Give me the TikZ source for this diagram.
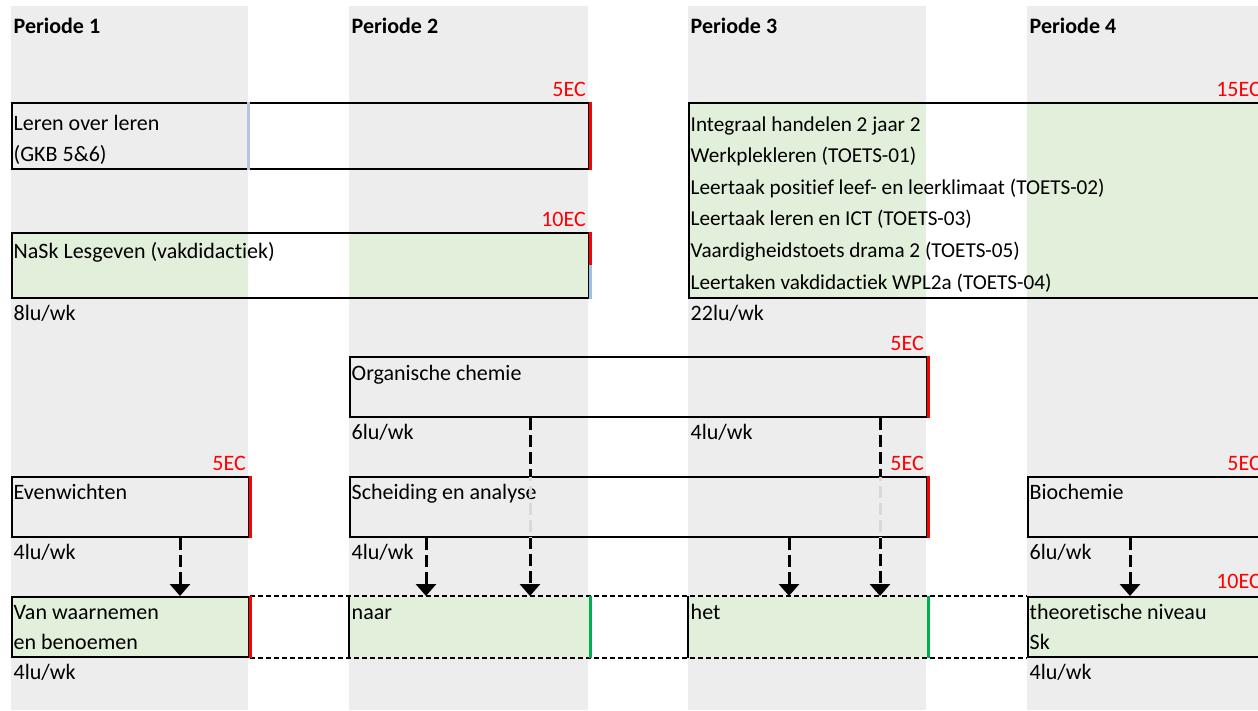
\documentclass[tikz,border=0pt]{standalone}
\usepackage{fontspec}
\setmainfont{Carlito}[Ligatures=NoCommon]
\usetikzlibrary{arrows.meta}

\definecolor{kolomgrijs}{HTML}{EDEDED}
\definecolor{celgroen}{HTML}{E2EFDA}
\definecolor{ecrood}{HTML}{FF0000}
\definecolor{randblauw}{HTML}{B4C6E7}
\definecolor{randblauwb}{HTML}{9BC2E6}
\definecolor{randgroen}{HTML}{00B050}
\definecolor{pijlgrijs}{HTML}{D9D9D9}

\newcommand{\celfont}{\fontsize{22}{31}\selectfont}
\newcommand{\toetsfont}{\fontsize{21.2}{31}\selectfont}

\tikzset{
  vak/.style={draw=black, line width=2pt, rectangle, inner sep=0pt, anchor=north west},
  tekst/.style={anchor=base west, inner sep=0pt, font=\celfont},
  kop/.style={tekst, font=\celfont\bfseries},
  ec/.style={anchor=base east, inner sep=0pt, text=ecrood, font=\celfont},
  roodrand/.style={draw=ecrood, line width=3pt},
  groenrand/.style={draw=randgroen, line width=3pt},
  pijl/.style={line width=3pt, dash pattern=on 12pt off 5pt, -{Triangle[width=20pt,length=12pt]}},
  streep/.style={line width=2pt, dash pattern=on 5pt off 3pt},
}

\begin{document}
\begin{tikzpicture}[x=1pt,y=-1pt]
        \useasboundingbox (0,0) rectangle (1258,710);
        % kolommen per periode
        \foreach \a/\b in {11/248,349/588,688/926,1027/1275}
                \fill[kolomgrijs] (\a,6) rectangle (\b,710);
        \foreach \a/\n in {11/1,349/2,688/3,1027/4}
                \node[kop] (kop\n) at (\a+2.5,33) {Periode \n};
        % groene cellen
        \fill[celgroen] (11,232) rectangle (248,297);
        \fill[celgroen] (349,232) rectangle (588,297);
        \fill[celgroen] (688,102) rectangle (926,297);
        \fill[celgroen] (1027,102) rectangle (1275,297);

        % vakken
        \node[vak, minimum width=577pt, minimum height=66pt] (leren) at (11,102) {};
        \node[vak, minimum width=577pt, minimum height=65pt] (nask) at (11,232) {};
        \node[vak, minimum width=575pt, minimum height=195pt] (integraal) at (688,102) {};
        \node[vak, minimum width=577pt, minimum height=60pt] (organ) at (349,356) {};
        \node[vak, minimum width=237pt, minimum height=60pt] (evenw) at (11,476) {};
        \node[vak, minimum width=577pt, minimum height=60pt] (scheid) at (349,476) {};
        \node[vak, minimum width=236pt, minimum height=60pt] (bio) at (1027,476) {};
        \node[vak, fill=celgroen, minimum width=237pt, minimum height=60pt] (waar) at (11,596) {};
        \node[vak, fill=celgroen, draw=none, minimum width=239pt, minimum height=60pt] (naar) at (349,596) {};
        \node[vak, fill=celgroen, draw=none, minimum width=238pt, minimum height=60pt] (het) at (688,596) {};
        \node[vak, fill=celgroen, minimum width=236pt, minimum height=60pt] (theo) at (1027,596) {};

        % onderste rij
        \draw[streep] (waar.north east) -- (theo.north west);
        \draw[streep] (waar.south east) -- (theo.south west);
        \draw[line width=2pt] (naar.north west) -- (naar.south west);
        \draw[line width=2pt] (het.north west) -- (het.south west);

        % gekleurde randen
        \draw[randblauw, line width=3pt] ([xshift=237pt]leren.north west) -- ([xshift=237pt]leren.south west);
        \draw[roodrand] (leren.north east) -- (leren.south east);
        \draw[roodrand] (nask.north east) -- ([yshift=-33pt]nask.north east);
        \draw[randblauwb, line width=3pt] ([yshift=-33pt]nask.north east) -- (nask.south east);
        \draw[roodrand] (organ.north east) -- (organ.south east);
        \draw[roodrand] (evenw.north east) -- (evenw.south east);
        \draw[roodrand] (scheid.north east) -- (scheid.south east);
        \draw[roodrand] (waar.north east) -- (waar.south east);
        \draw[groenrand] (naar.north east) -- (naar.south east);
        \draw[groenrand] (het.north east) -- (het.south east);

        % studiepunten
        \node[ec] (ecleren) at ([xshift=-4pt,yshift=6pt]leren.north east) {5EC};
        \node[ec] (ecnask) at ([xshift=-4pt,yshift=6pt]nask.north east) {10EC};
        \node[ec] (ecint) at ([xshift=-4pt,yshift=6pt]integraal.north east) {15EC};
        \node[ec] (ecorgan) at ([xshift=-4pt,yshift=6pt]organ.north east) {5EC};
        \node[ec] (ecevenw) at ([xshift=-4pt,yshift=6pt]evenw.north east) {5EC};
        \node[ec] (ecscheid) at ([xshift=-4pt,yshift=6pt]scheid.north east) {5EC};
        \node[ec] (ecbio) at ([xshift=-4pt,yshift=6pt]bio.north east) {5EC};
        \node[ec] (ectheo) at ([xshift=-4pt,yshift=8pt]theo.north east) {10EC};

        % teksten in de vakken
        \node[tekst] (tleren1) at (13.5,130) {Leren over leren};
        \node[tekst] (tleren2) at (13.5,161) {(GKB 5\&6)};
        \node[tekst] (tnask) at (13.5,258) {NaSk Lesgeven (vakdidactiek)};
        \foreach \regel [count=\i from 0] in {{Integraal handelen 2 jaar 2},{Werkplekleren (TOETS-01)},{Leertaak positief leef- en leerklimaat (TOETS-02)},{Leertaak leren en ICT (TOETS-03)},{Vaardigheidstoets drama 2 (TOETS-05)},{Leertaken vakdidactiek WPL2a (TOETS-04)}}
                \node[tekst, font=\toetsfont] (tint\i) at (690.5,131+31.6*\i) {\regel};
        \node[tekst] (torgan) at (351.5,380) {Organische chemie};
        \node[tekst] (tevenw) at (13.5,499) {Evenwichten};
        \node[tekst] (tscheid) at (351.5,499) {Scheiding en analyse};
        \node[tekst] (tbio) at (1029.5,499) {Biochemie};
        \node[tekst] (twaar1) at (13.5,619) {Van waarnemen};
        \node[tekst] (twaar2) at (13.5,649) {en benoemen};
        \node[tekst] (tnaar) at (351.5,619) {naar};
        \node[tekst] (thet) at (690.5,619) {het};
        \node[tekst] (ttheo1) at (1029.5,619) {theoretische niveau};
        \node[tekst] (ttheo2) at (1029.5,649) {Sk};

        % lesuren
        \node[tekst] (lu1) at (13.5,320) {8lu/wk};
        \node[tekst] (lu2) at (690.5,320) {22lu/wk};
        \node[tekst] (lu3) at (351.5,439) {6lu/wk};
        \node[tekst] (lu4) at (690.5,439) {4lu/wk};
        \node[tekst] (lu5) at (13.5,559) {4lu/wk};
        \node[tekst] (lu6) at (351.5,559) {4lu/wk};
        \node[tekst] (lu7) at (1029.5,559) {6lu/wk};
        \node[tekst] (lu8) at (13.5,679) {4lu/wk};
        \node[tekst] (lu9) at (1029.5,679) {4lu/wk};

        % pijlen
        \draw[pijl] ([xshift=169pt]evenw.south west) -- ([xshift=169pt]waar.north west);
        \draw[pijl] ([xshift=77pt]scheid.south west) -- ([xshift=77pt]naar.north west);
        \draw[pijl] ([xshift=181pt]organ.south west) -- ([xshift=181pt]naar.north west);
        \draw[pijl] ([xshift=440pt]scheid.south west) -- ([xshift=101pt]het.north west);
        \draw[pijl] ([xshift=531pt]organ.south west) -- ([xshift=192pt]het.north west);
        \draw[pijl] ([xshift=103pt]bio.south west) -- ([xshift=103pt]theo.north west);
        % lichter stuk binnen Scheiding en analyse
        \begin{scope}
                \clip ([yshift=-1pt]scheid.north west) rectangle ([yshift=1pt]scheid.south east);
                \draw[pijl, -, draw=pijlgrijs] ([xshift=181pt]organ.south west) -- ([xshift=181pt]naar.north west);
                \draw[pijl, -, draw=pijlgrijs] ([xshift=531pt]organ.south west) -- ([xshift=192pt]het.north west);
        \end{scope}
\end{tikzpicture}
\end{document}
